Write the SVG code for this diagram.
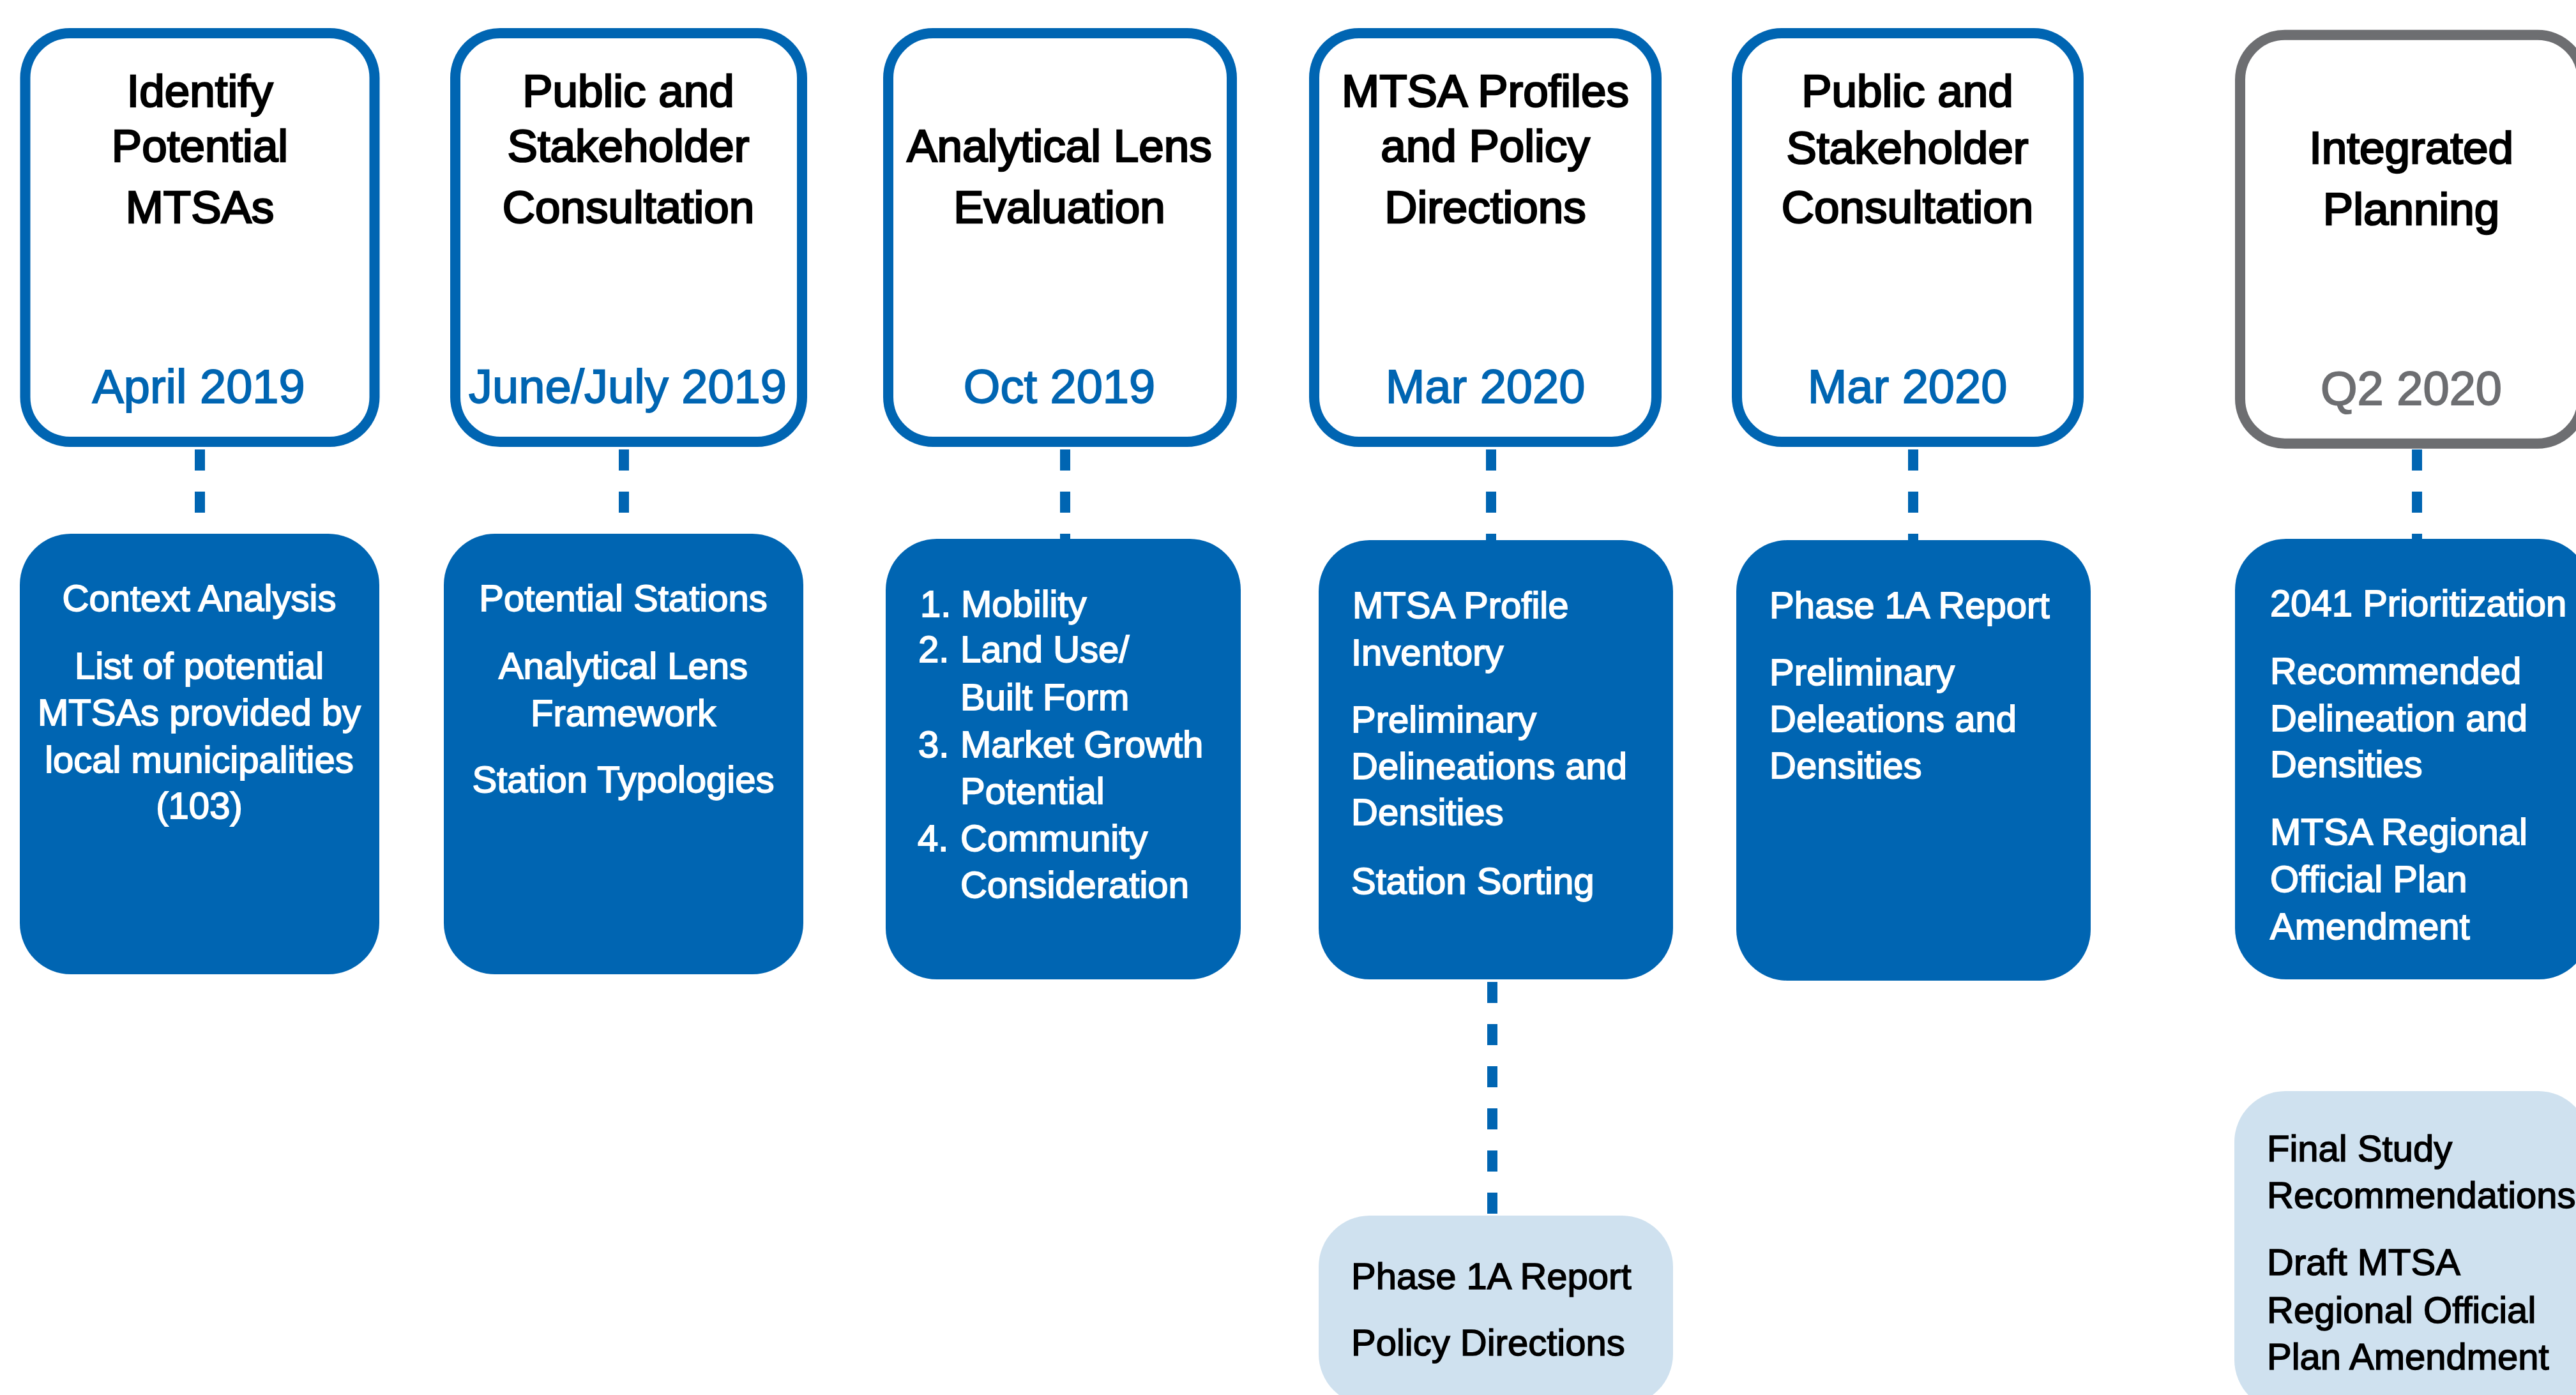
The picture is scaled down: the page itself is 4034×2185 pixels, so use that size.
<svg xmlns="http://www.w3.org/2000/svg" width="4034" height="2185" viewBox="0 0 4034 2185">
<style>
.frame{fill:#ffffff;stroke:#0065b2;stroke-width:16}
.frame.gray{stroke:#6d6e71}
.blk{fill:#0065b2}
.lite{fill:#cfe1ef}
text{font-family:"Liberation Sans",Arial,sans-serif}
.title{font-size:71px;fill:#000;stroke:#000;stroke-width:2.6;text-anchor:middle}
.date{font-size:74px;fill:#0065b2;stroke:#0065b2;stroke-width:1.8;text-anchor:middle}
.date.g{fill:#6d6e71;stroke:#6d6e71}
.w{font-size:58px;fill:#fff;stroke:#fff;stroke-width:1.8}
.wc{text-anchor:middle}
.k{font-size:58px;fill:#000;stroke:#000;stroke-width:1.5}
.conn{stroke:#0065b2;stroke-width:16;stroke-dasharray:33 33;fill:none}
</style>
<rect width="4034" height="2185" fill="#ffffff"/>
<g id="connectors">
<line class="conn" x1="313" y1="704" x2="313" y2="869"/>
<line class="conn" x1="977" y1="704" x2="977" y2="869"/>
<line class="conn" x1="1668" y1="704" x2="1668" y2="869"/>
<line class="conn" x1="2335" y1="704" x2="2335" y2="869"/>
<line class="conn" x1="2996" y1="704" x2="2996" y2="869"/>
<line class="conn" x1="3785" y1="704" x2="3785" y2="869"/>
<line class="conn" x1="2337" y1="1538" x2="2337" y2="1902"/>
</g>
<g id="t1">
<rect class="frame" x="39.5" y="52" width="547" height="640" rx="70" ry="70"/>
<text class="title" x="313" y="167">Identify</text>
<text class="title" x="313" y="253">Potential</text>
<text class="title" x="313" y="349">MTSAs</text>
<text class="date" x="311" y="631">April 2019</text>
</g>
<g id="t2">
<rect class="frame" x="713" y="52" width="543" height="640" rx="70" ry="70"/>
<text class="title" x="984" y="167">Public and</text>
<text class="title" x="984" y="253">Stakeholder</text>
<text class="title" x="984" y="349">Consultation</text>
<text class="date" x="983" y="631">June/July 2019</text>
</g>
<g id="t3">
<rect class="frame" x="1391" y="52" width="538" height="640" rx="70" ry="70"/>
<text class="title" x="1659" y="253">Analytical Lens</text>
<text class="title" x="1659" y="349">Evaluation</text>
<text class="date" x="1659" y="631">Oct 2019</text>
</g>
<g id="t4">
<rect class="frame" x="2058" y="52" width="536" height="640" rx="70" ry="70"/>
<text class="title" x="2326" y="167">MTSA Profiles</text>
<text class="title" x="2326" y="253">and Policy</text>
<text class="title" x="2326" y="349">Directions</text>
<text class="date" x="2326" y="631">Mar 2020</text>
</g>
<g id="t5">
<rect class="frame" x="2720" y="52" width="535" height="640" rx="70" ry="70"/>
<text class="title" x="2987" y="167">Public and</text>
<text class="title" x="2987" y="256">Stakeholder</text>
<text class="title" x="2987" y="349">Consultation</text>
<text class="date" x="2987" y="631">Mar 2020</text>
</g>
<g id="t6">
<rect class="frame gray" x="3508" y="54.7" width="536" height="640" rx="70" ry="70"/>
<text class="title" x="3776" y="256">Integrated</text>
<text class="title" x="3776" y="352">Planning</text>
<text class="date g" x="3776" y="634">Q2 2020</text>
</g>
<g id="b1">
<rect class="blk" x="31" y="836" width="563" height="690" rx="80" ry="80"/>
<text class="w wc" x="312" y="957">Context Analysis</text>
<text class="w wc" x="312" y="1063">List of potential</text>
<text class="w wc" x="312" y="1136">MTSAs provided by</text>
<text class="w wc" x="312" y="1210">local municipalities</text>
<text class="w wc" x="312" y="1282">(103)</text>
</g>
<g id="b2">
<rect class="blk" x="695" y="836" width="563" height="690" rx="80" ry="80"/>
<text class="w wc" x="976" y="957">Potential Stations</text>
<text class="w wc" x="976" y="1063">Analytical Lens</text>
<text class="w wc" x="976" y="1137">Framework</text>
<text class="w wc" x="976" y="1241">Station Typologies</text>
</g>
<g id="b3">
<rect class="blk" x="1387" y="844" width="556" height="690" rx="80" ry="80"/>
<text class="w" x="1441" y="966">1.</text>
<text class="w" x="1505" y="966">Mobility</text>
<text class="w" x="1438" y="1037">2.</text>
<text class="w" x="1504" y="1037">Land Use/</text>
<text class="w" x="1504" y="1112">Built Form</text>
<text class="w" x="1438" y="1186">3.</text>
<text class="w" x="1504" y="1186">Market Growth</text>
<text class="w" x="1504" y="1259">Potential</text>
<text class="w" x="1437" y="1333">4.</text>
<text class="w" x="1504" y="1333">Community</text>
<text class="w" x="1504" y="1406">Consideration</text>
</g>
<g id="b4">
<rect class="blk" x="2065" y="846" width="555" height="688" rx="80" ry="80"/>
<text class="w" x="2118" y="968">MTSA Profile</text>
<text class="w" x="2116" y="1042">Inventory</text>
<text class="w" x="2116" y="1147">Preliminary</text>
<text class="w" x="2116" y="1220">Delineations and</text>
<text class="w" x="2116" y="1292">Densities</text>
<text class="w" x="2116" y="1400">Station Sorting</text>
</g>
<g id="b5">
<rect class="blk" x="2719" y="846" width="555" height="690" rx="80" ry="80"/>
<text class="w" x="2771" y="968">Phase 1A Report</text>
<text class="w" x="2771" y="1073">Preliminary</text>
<text class="w" x="2771" y="1146">Deleations and</text>
<text class="w" x="2771" y="1219">Densities</text>
</g>
<g id="b6">
<rect class="blk" x="3500" y="844" width="556" height="690" rx="80" ry="80"/>
<text class="w" x="3555" y="965">2041 Prioritization</text>
<text class="w" x="3555" y="1071">Recommended</text>
<text class="w" x="3555" y="1145">Delineation and</text>
<text class="w" x="3555" y="1217">Densities</text>
<text class="w" x="3555" y="1323">MTSA Regional</text>
<text class="w" x="3555" y="1397">Official Plan</text>
<text class="w" x="3555" y="1471">Amendment</text>
</g>
<g id="l4">
<rect class="lite" x="2065" y="1904" width="555" height="297" rx="80" ry="80"/>
<text class="k" x="2116" y="2019">Phase 1A Report</text>
<text class="k" x="2116" y="2123">Policy Directions</text>
</g>
<g id="l6">
<rect class="lite" x="3499" y="1709" width="556" height="501" rx="80" ry="80"/>
<text class="k" x="3550" y="1819">Final Study</text>
<text class="k" x="3550" y="1892">Recommendations</text>
<text class="k" x="3550" y="1997">Draft MTSA</text>
<text class="k" x="3550" y="2072">Regional Official</text>
<text class="k" x="3550" y="2145">Plan Amendment</text>
</g>
</svg>
